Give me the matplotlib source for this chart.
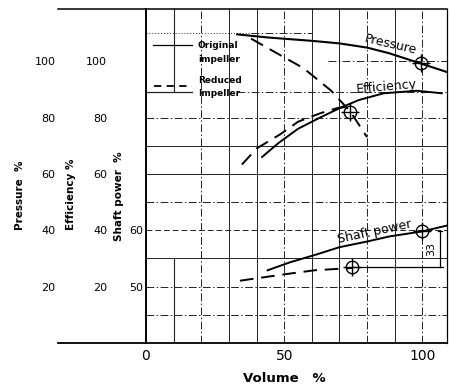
import matplotlib
matplotlib.use("Agg")
import matplotlib.pyplot as plt

# ---------------- data ----------------
vol_pressure_orig = [33, 44, 52, 60, 70, 80, 88, 99, 109]
pressure_orig = [109.5, 108.4, 107.8, 107.2, 106.3, 104.8, 102.8, 99.3, 96.1]

vol_pressure_red = [38, 47, 57, 67, 74, 80]
pressure_red = [108, 103, 97.5, 89.5, 82, 73]

vol_eff_orig = [42, 48, 55, 63, 70, 77, 86, 98, 107]
eff_orig = [66, 71, 76, 80, 83.3, 86.2, 88.6, 89.5, 88.6]

vol_eff_red = [34.7, 40, 48.5, 55, 63, 69, 74]
eff_red = [63.3, 69, 74, 78.5, 81.5, 83.3, 84]

vol_shaft_orig = [44, 52, 62, 70, 80, 88, 100, 109]
shaft_orig = [52.9, 54.3, 55.75, 57.0, 58.0, 58.9, 59.8, 60.85]

vol_shaft_red = [34, 50.3, 61, 74.5]
shaft_red = [51.05, 52.2, 52.9, 53.3]

# operating points (circles)
op_vol = [99.5, 73.8]
op_pressure = [99.3, 82]
op_shaft_vol = [99.8, 74.5]
op_shaft = [59.8, 53.4]

x_ticks = [0, 50, 100]
pressure_ticks = [20, 40, 60, 80, 100]
eff_ticks = [20, 40, 60, 80, 100]
shaft_ticks = [50, 60]
dim_label = "33"

vgrid = [10, 20, 30, 40, 50, 60, 70, 80, 90, 100]
vgrid_style = ["seg", "dd", "s", "s", "dd", "s", "s", "dd", "s", "dd"]
hgrid = [10, 20, 30, 40, 50, 60, 70, 80, 90, 100, 110]
hgrid_style = ["dd", "dd", "s", "da", "dd", "s", "s", "dd", "dd", "dd", "dot"]

# ---------------- figure ----------------
W, H = 450, 389
fig = plt.figure(figsize=(W / 100, H / 100), dpi=100)
ax = fig.add_axes([146 / W, 46 / H, 301 / W, 334 / H])
ax.set_xlim(0, 108.9)
ax.set_ylim(0, 118.5)

def p2s(p):
    return 40 + p / 2.0

def s2p(s):
    return (s - 40) * 2.0

K = "black"
G = "#222222"
DD = (0, (8, 2.5, 1.5, 2.5))
styles = {"s": "-", "dd": DD, "da": (0, (6, 3)), "dot": (0, (1, 2))}
GLW = 0.7

for x, st in zip(vgrid, vgrid_style):
    if st == "seg":
        ax.plot([x, x], [89, 118.5], color=G, lw=0.8)
        ax.plot([x, x], [0, 30], color=G, lw=0.8)
    else:
        ax.plot([x, x], [0, 118.5], color=G, lw=GLW, linestyle=styles[st])

for y, st in zip(hgrid, hgrid_style):
    if y == 110:
        ax.plot([0, 38], [y, y], color=G, lw=GLW, linestyle=styles[st])
        ax.plot([38, 60], [y, y], color=G, lw=GLW, linestyle=DD)
    elif y == 100:
        ax.plot([66, 108.9], [y, y], color=G, lw=GLW, linestyle=styles[st])
    elif y == 90:
        ax.plot([0, 16.5], [89, 89], color=G, lw=0.9)
        ax.plot([33, 108.9], [89, 89], color=G, lw=GLW, linestyle=DD)
    else:
        ax.plot([0, 108.9], [y, y], color=G, lw=GLW, linestyle=styles[st])

# frame
for sp in ["left", "top", "bottom", "right"]:
    ax.spines[sp].set_color(K)
ax.spines["left"].set_linewidth(1.4)
ax.spines["top"].set_linewidth(1.1)
ax.spines["bottom"].set_linewidth(1.3)
ax.spines["right"].set_linewidth(0.9)
ax.plot([-0.292, 0], [1, 1], transform=ax.transAxes, color=K, lw=1.1, clip_on=False)
ax.plot([-0.292, 0], [0, 0], transform=ax.transAxes, color=K, lw=1.3, clip_on=False)

# curves
ax.plot(vol_pressure_orig, pressure_orig, color=K, lw=1.5)
ax.plot(vol_pressure_red, pressure_red, color=K, lw=1.4, linestyle=(0, (7, 4)))
ax.plot(vol_eff_orig, eff_orig, color=K, lw=1.4)
ax.plot(vol_eff_red, eff_red, color=K, lw=1.4, linestyle=(0, (7, 4)))

ax2 = ax.twinx()
ax2.set_ylim(p2s(0), p2s(118.5))
ax2.axis("off")
ax2.plot(vol_shaft_orig, shaft_orig, color=K, lw=1.4)
ax2.plot(vol_shaft_red, shaft_red, color=K, lw=1.4, linestyle=(0, (7, 4)))

# operating points
ax.plot(op_vol, op_pressure, "o", ms=9, mfc="none", mec=K, mew=1.0)
ax.plot(op_vol, op_pressure, "+", ms=13, mec=K, mew=1.0)
ax2.plot(op_shaft_vol, op_shaft, "o", ms=9, mfc="none", mec=K, mew=1.0)
ax2.plot(op_shaft_vol, op_shaft, "+", ms=13, mec=K, mew=1.0)

# dimension "33"
ax2.plot([op_shaft_vol[1], 107.5], [op_shaft[1], op_shaft[1]], color=K, lw=0.9)
ax2.plot([106.3, 106.3], [op_shaft[1], op_shaft[0]], color=K, lw=0.9)
ax2.plot([105.5, 107.2], [op_shaft[0], op_shaft[0]], color=K, lw=0.9)
ax2.text(103.3, (op_shaft[0] + op_shaft[1]) / 2, dim_label, rotation=90,
         ha="center", va="center", fontsize=8, color=K)

# curve labels
ax.text(88.5, 106.0, "Pressure", rotation=-13, ha="center", va="center",
        fontsize=9, color=K)
ax.text(87.0, 91.0, "Efficiency", rotation=5, ha="center", va="center",
        fontsize=9, color=K)
ax2.text(82.5, p2s(39.6), "Shaft power", rotation=12, ha="center", va="center",
         fontsize=9, color=K)

# legend
ax.plot([2.5, 16.6], [105.6, 105.6], color=K, lw=0.9)
ax.text(18.8, 105.6, "Original", fontsize=6.5, fontweight="bold", va="center", color=K)
ax.text(18.8, 100.6, "impeller", fontsize=6.5, fontweight="bold", va="center", color=K)
ax.plot([3, 16.6], [91.2, 91.2], color=K, lw=1.3, linestyle=(0, (4, 3)))
ax.text(18.8, 93.0, "Reduced", fontsize=6.5, fontweight="bold", va="center", color=K)
ax.text(18.8, 88.6, "Impeller", fontsize=6.5, fontweight="bold", va="center", color=K)

# ticks
ax.set_xticks(x_ticks)
ax.set_xticklabels([str(v) for v in x_ticks], fontsize=10)
ax.tick_params(axis="x", length=0, pad=4)
ax.set_yticks(pressure_ticks)
ax.set_yticklabels([str(v) for v in pressure_ticks], fontsize=8)
ax.tick_params(axis="y", length=0, pad=65)

sec_eff = ax.secondary_yaxis("left")
sec_eff.set_yticks(eff_ticks)
sec_eff.set_yticklabels([str(v) for v in eff_ticks], fontsize=8)
sec_eff.tick_params(axis="y", length=0, pad=28)
sec_eff.spines["left"].set_visible(False)

sec_shaft = ax.secondary_yaxis("left", functions=(p2s, s2p))
sec_shaft.set_yticks(shaft_ticks)
sec_shaft.set_yticklabels([str(v) for v in shaft_ticks], fontsize=8)
sec_shaft.tick_params(axis="y", length=0, pad=2)
sec_shaft.spines["left"].set_visible(False)

# axis titles
fig.text(20 / W, 1 - 195 / H, "Pressure  %", rotation=90, ha="center", va="center",
         fontsize=7.5, fontweight="bold")
fig.text(71 / W, 1 - 194 / H, "Efficiency %", rotation=90, ha="center", va="center",
         fontsize=7.5, fontweight="bold")
fig.text(119 / W, 1 - 196 / H, "Shaft power  %", rotation=90, ha="center", va="center",
         fontsize=7.5, fontweight="bold")
fig.text(284 / W, 1 - 379 / H, "Volume   %", ha="center", va="center",
         fontsize=9.5, fontweight="bold")

fig.savefig("out.png", dpi=100)
